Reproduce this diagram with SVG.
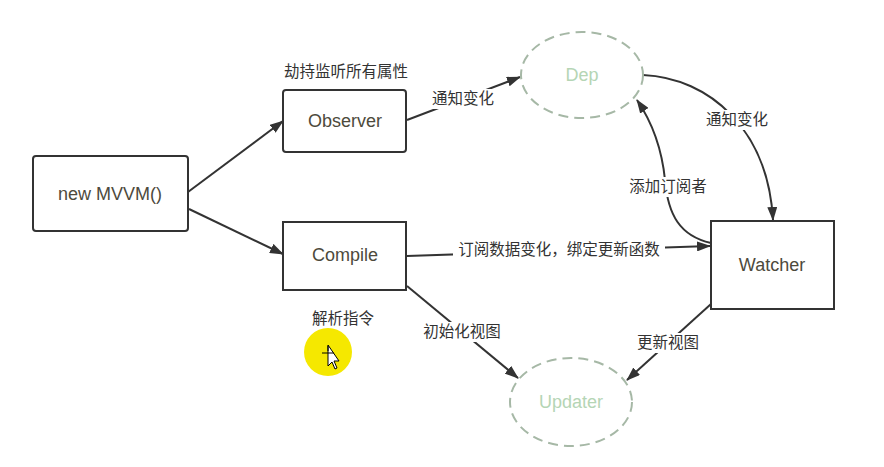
<svg xmlns="http://www.w3.org/2000/svg" width="884" height="467" viewBox="0 0 884 467">
<defs>
<marker id="ah" viewBox="0 0 14 10" refX="13" refY="5" markerWidth="14" markerHeight="10" markerUnits="userSpaceOnUse" orient="auto">
<path d="M0,0 L14,5 L0,10 Z" fill="#333"/>
</marker>
</defs>
<style>
.box{fill:#fff;stroke:#333;stroke-width:2}
.ell{fill:#fff;stroke:#a6b8a6;stroke-width:2;stroke-dasharray:10 6}
.nt{font-family:"Liberation Sans",Arial,sans-serif;font-size:18px;fill:#4d4a3c;text-anchor:middle}
.et{font-family:"Liberation Sans",Arial,sans-serif;font-size:18px;fill:#b5d5b5;text-anchor:middle}
.lb{font-family:"Noto Sans CJK SC","Liberation Sans",sans-serif;font-size:15.5px;fill:#333;text-anchor:middle}
.e{fill:none;stroke:#333;stroke-width:2;marker-end:url(#ah)}
.bg{fill:#fff}
</style>
<rect width="884" height="467" fill="#fff"/>
<g id="connectors">
<path class="e" d="M188,192 L283,121"/>
<path class="e" d="M189,209 L283,254"/>
<path class="e" d="M407,120 L520,77"/>
<path class="e" d="M643,75 C710,78 768,130 773,220"/>
<path class="e" d="M711,243 C680,236 668,215 665,180 C662,150 652,122 637,100"/>
<path class="e" d="M407,256 L710,246"/>
<path class="e" d="M407,286 L518,378"/>
<path class="e" d="M711,304 L627,380"/>
</g>
<g id="labels">
<rect class="bg" x="430" y="89" width="66" height="20"/>
<text class="lb" x="463" y="104">通知变化</text>
<rect class="bg" x="704" y="110" width="66" height="20"/>
<text class="lb" x="737" y="125">通知变化</text>
<rect class="bg" x="627" y="177" width="82" height="20"/>
<text class="lb" x="668" y="192">添加订阅者</text>
<rect class="bg" x="453" y="240" width="212" height="20"/>
<text class="lb" x="559" y="255">订阅数据变化，绑定更新函数</text>
<rect class="bg" x="419" y="322" width="86" height="20"/>
<text class="lb" x="462" y="337">初始化视图</text>
<rect class="bg" x="633" y="333" width="70" height="20"/>
<text class="lb" x="668" y="348">更新视图</text>
<text class="lb" x="346" y="77">劫持监听所有属性</text>
<text class="lb" x="343" y="324">解析指令</text>
</g>
<g id="mvvm">
<rect class="box" x="33" y="156" width="155" height="75" rx="3"/>
<text class="nt" x="110" y="200">new MVVM()</text>
</g>
<g id="observer">
<rect class="box" x="283" y="90" width="123" height="62" rx="3"/>
<text class="nt" x="345" y="127">Observer</text>
</g>
<g id="compile">
<rect class="box" x="283" y="222" width="123" height="68"/>
<text class="nt" x="345" y="261">Compile</text>
</g>
<g id="watcher">
<rect class="box" x="711" y="221" width="123" height="88"/>
<text class="nt" x="772" y="271">Watcher</text>
</g>
<g id="dep">
<ellipse class="ell" cx="582" cy="75" rx="61" ry="43"/>
<text class="et" x="582" y="81">Dep</text>
</g>
<g id="updater">
<ellipse class="ell" cx="571" cy="402" rx="61" ry="44"/>
<text class="et" x="571" y="408">Updater</text>
</g>
<g id="cursor">
<circle cx="328" cy="352" r="24" fill="#f5e800"/>
<path d="M328,345 L328,366 L332,362 L335,369 L337,368 L334,361 L339,361 Z" fill="#fff" stroke="#000" stroke-width="1"/>
<path d="M322,353 L334,353 M328,346 L328,351" stroke="#000" stroke-width="1"/>
</g>
</svg>
